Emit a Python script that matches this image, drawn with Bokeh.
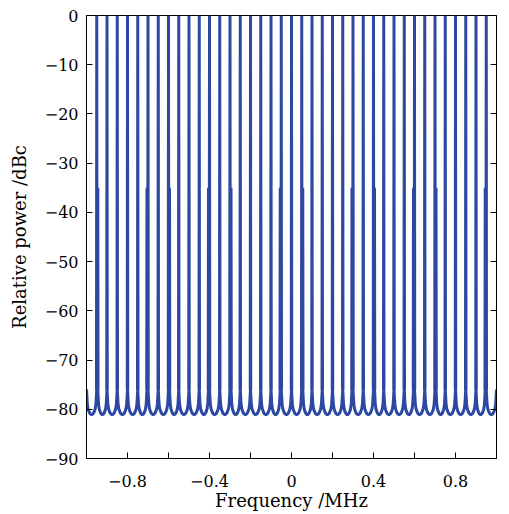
from bokeh.plotting import figure
from bokeh.models import FixedTicker, LinearAxis
from bokeh.embed import file_html
from bokeh.resources import INLINE

# Comb lines of the spectrum (MHz, dBc)
carrier_mhz = [-0.95, -0.90, -0.85, -0.80, -0.75, -0.70, -0.65, -0.60, -0.55, -0.50,
               -0.45, -0.40, -0.35, -0.30, -0.25, -0.20, -0.15, -0.10, -0.05, 0.00,
               0.05, 0.10, 0.15, 0.20, 0.25, 0.30, 0.35, 0.40, 0.45, 0.50,
               0.55, 0.60, 0.65, 0.70, 0.75, 0.80, 0.85, 0.90, 0.95]
carrier_dbc = [0.0] * len(carrier_mhz)

# Weaker sidebands sitting next to some comb lines
sideband_mhz = [-0.945, -0.705, -0.595, -0.405, -0.295, -0.055,
                0.055, 0.295, 0.405, 0.595, 0.705, 0.945]
sideband_dbc = [-35.0, -35.0, -35.0, -35.0, -35.0, -35.0,
                -35.0, -35.0, -35.0, -35.0, -35.0, -35.0]

# Noise floor between two neighbouring lines (fraction of the gap, dBc)
floor_frac = [0.0, 0.04, 0.08, 0.15, 0.25, 0.35, 0.5, 0.65, 0.75, 0.85, 0.92, 0.96, 1.0]
floor_dbc = [-76.0, -77.4, -78.9, -79.9, -80.5, -80.9, -81.1, -80.9, -80.5, -79.9, -78.9, -77.4, -76.0]

band_edges = [-1.0, 1.0]

# Assemble one continuous trace
spikes = sorted(zip(carrier_mhz + sideband_mhz, carrier_dbc + sideband_dbc))
base = floor_dbc[0]
half = 0.0012
xs, ys = [], []
stops = [band_edges[0]] + [f for f, _ in spikes] + [band_edges[1]]
levels = [None] + [v for _, v in spikes] + [None]
for i in range(len(stops)):
    f, lvl = stops[i], levels[i]
    if lvl is not None:
        xs += [f - half, f, f + half]
        ys += [base, lvl, base]
    if i + 1 < len(stops):
        g = stops[i + 1]
        if g - f > 0.02:
            for fr, db in zip(floor_frac, floor_dbc):
                xs.append(f + fr * (g - f))
                ys.append(db)

p = figure(width=509, height=514, x_range=(-1, 1), y_range=(-90, 0),
           output_backend="svg", toolbar_location=None,
           min_border_left=86, min_border_right=13, min_border_top=15, min_border_bottom=56)
p.background_fill_color = "white"
p.border_fill_color = "white"
p.grid.visible = False
p.outline_line_color = "black"
p.outline_line_width = 1

p.line(xs, ys, line_color="#2c48a2", line_width=3)

font = "DejaVu Serif"
yticks = [-90, -80, -70, -60, -50, -40, -30, -20, -10, 0]
p.yaxis.ticker = FixedTicker(ticks=yticks)
p.yaxis.major_label_overrides = {t: ("\u2212" + str(-t)) if t < 0 else "0" for t in yticks}
xticks = [-0.8, -0.4, 0, 0.4, 0.8]
p.xaxis.ticker = FixedTicker(ticks=xticks, minor_ticks=[-0.6, -0.2, 0.2, 0.6])
p.xaxis.major_label_overrides = {-0.8: "\u22120.8", -0.4: "\u22120.4", 0: "0", 0.4: "0.4", 0.8: "0.8"}

for ax in (p.xaxis[0], p.yaxis[0]):
    ax.major_tick_in = 6
    ax.major_tick_out = 0
    ax.minor_tick_in = 6
    ax.minor_tick_out = 0
    ax.axis_line_color = "black"
    ax.major_tick_line_color = "black"
    ax.minor_tick_line_color = "black"
    ax.major_label_text_font = font
    ax.major_label_text_font_size = "16px"
    ax.major_label_text_color = "black"
    ax.axis_label_text_font = font
    ax.axis_label_text_font_size = "18px"
    ax.axis_label_text_font_style = "normal"
    ax.axis_label_text_color = "black"

p.xaxis.axis_label = "Frequency /MHz"
p.yaxis.axis_label = "Relative power /dBc"
p.xaxis.major_label_standoff = 16
p.yaxis.major_label_standoff = 8
p.xaxis.axis_label_standoff = 0
p.yaxis.axis_label_standoff = 12

right = LinearAxis(ticker=FixedTicker(ticks=yticks), major_tick_in=6, major_tick_out=0,
                   minor_tick_line_color=None, major_label_text_font_size="1px",
                   major_label_text_alpha=0, major_label_standoff=0, axis_line_color="black")
p.add_layout(right, "right")

open("out.html", "w").write(file_html(p, INLINE))
